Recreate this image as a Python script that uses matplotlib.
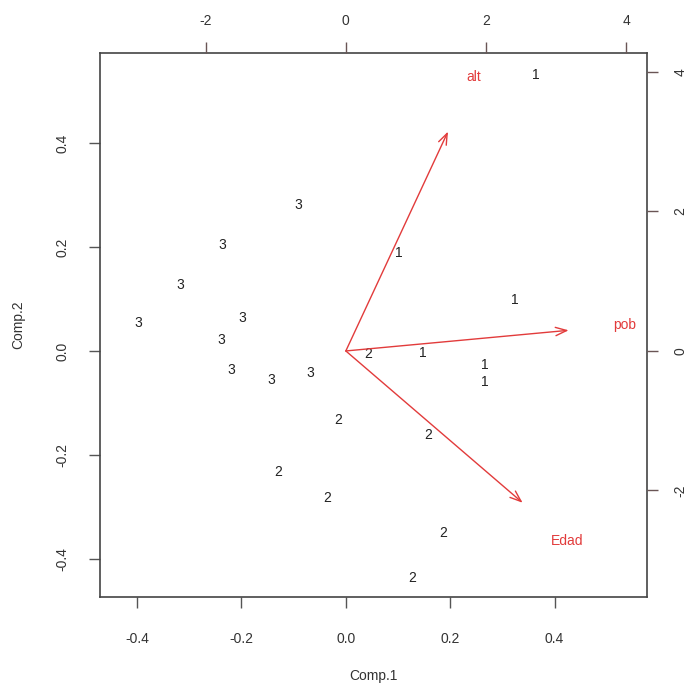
import numpy as np
import matplotlib
matplotlib.use("Agg")
import matplotlib.pyplot as plt

plt.rcParams['font.family'] = ['Liberation Sans', 'DejaVu Sans']

# scores on the first two components, labelled by group
groups = ['1', '1', '1', '1', '1', '1',
          '2', '2', '2', '2', '2', '2', '2',
          '3', '3', '3', '3', '3', '3', '3', '3', '3']
comp1 = [0.364, 0.102, 0.324, 0.147, 0.266, 0.266,
         0.042, -0.015, 0.157, -0.130, -0.036, 0.186, 0.128,
         -0.092, -0.236, -0.318, -0.398, -0.199, -0.238, -0.220, -0.142, -0.069]
comp2 = [0.532, 0.189, 0.098, -0.004, -0.027, -0.060,
         -0.006, -0.133, -0.162, -0.233, -0.283, -0.351, -0.437,
         0.281, 0.204, 0.127, 0.054, 0.064, 0.021, -0.037, -0.056, -0.042]

# variable loadings (scaled), arrows drawn at 0.8 of these
variables = ['alt', 'pob', 'Edad']
load1 = [1.82, 3.97, 3.15]
load2 = [3.93, 0.37, -2.72]

xlim = (-0.471, 0.577)
ylim = (-0.474, 0.574)
ratio = 7.44

red = '#e23b3b'
ink = '#222222'
axcol = '#555555'
labcol = '#333333'

fig = plt.figure(figsize=(6.87, 6.87), dpi=100)
rect = [100 / 687, 90 / 687, 547 / 687, 544 / 687]
ax = fig.add_axes(rect)
ax.set_xlim(xlim)
ax.set_ylim(ylim)

for g, x, y in zip(groups, comp1, comp2):
    ax.text(x, y, g, ha='center', va='center', fontsize=10, color=ink)

ax.set_xticks([-0.4, -0.2, 0.0, 0.2, 0.4])
ax.set_yticks([-0.4, -0.2, 0.0, 0.2, 0.4])
ax.set_xticklabels(['-0.4', '-0.2', '0.0', '0.2', '0.4'])
ax.set_yticklabels(['-0.4', '-0.2', '0.0', '0.2', '0.4'])
ax.tick_params(direction='out', length=8, width=1, labelsize=10,
               color=axcol, labelcolor=labcol)
ax.tick_params(axis='x', pad=17)
ax.tick_params(axis='y', pad=14)
for lbl in ax.get_yticklabels():
    lbl.set_rotation(90)
    lbl.set_va('center')
ax.set_xlabel('Comp.1', fontsize=10, color=labcol, va='center')
ax.set_ylabel('Comp.2', fontsize=10, color=labcol, va='center')
ax.xaxis.set_label_coords(0.5, -0.145)
ax.yaxis.set_label_coords(-0.150, 0.5)
for sp in ax.spines.values():
    sp.set_color('#444444')
    sp.set_linewidth(1.2)

# second set of axes for the loadings
ax2 = fig.add_axes(rect, frameon=False)
ax2.set_xlim(xlim[0] * ratio, xlim[1] * ratio)
ax2.set_ylim(ylim[0] * ratio, ylim[1] * ratio)
ax2.xaxis.tick_top()
ax2.yaxis.tick_right()
ax2.set_xticks([-2, 0, 2, 4])
ax2.set_yticks([-2, 0, 2, 4])
ax2.set_xticklabels(['-2', '0', '2', '4'])
ax2.set_yticklabels(['-2', '0', '2', '4'])
ax2.tick_params(direction='out', length=8, width=1, pad=10, labelsize=10,
                color='#6a5555', labelcolor=labcol)
ax2.tick_params(axis='y', pad=11)
for lbl in ax2.get_yticklabels():
    lbl.set_rotation(90)
    lbl.set_va('center')

for name, x, y in zip(variables, load1, load2):
    ax2.annotate('', xy=(0.8 * x, 0.8 * y), xytext=(0, 0),
                 arrowprops=dict(arrowstyle='->,head_length=0.8,head_width=0.3',
                                 color=red, lw=1.0, shrinkA=0, shrinkB=0,
                                 mutation_scale=10))
    ax2.text(x, y, name, ha='center', va='center', fontsize=10, color=red)

fig.savefig('out.png', dpi=100)
